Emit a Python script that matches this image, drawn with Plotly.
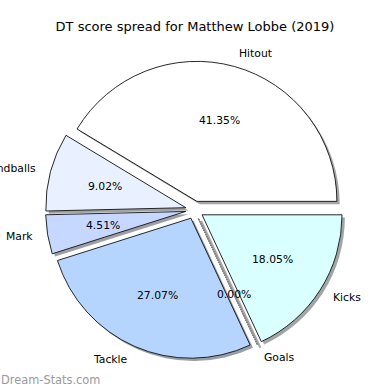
import math
import plotly.graph_objects as go

# ---- data ----
labels = ["Hitout", "Handballs", "Mark", "Tackle", "Goals", "Kicks"]
values = [55, 12, 6, 36, 0, 24]
colors = ["#ffffff", "#e9f0ff", "#c6d8ff", "#b5d5ff", "#d0e0ff", "#d9ffff"]
explode = [0.064, 0.064, 0.064, 0.064, 0.064, 0.064]
title_text = "DT score spread for Matthew Lobbe (2019)"
watermark = "Dream-Stats.com"

# ---- layout geometry (px, top-down) ----
W = H = 390
CX, CY = 194.5, 210.0
R = 140.0
SH = 2.8
FONT = "DejaVu Sans"

total = float(sum(values))
maxpull = max(explode)
half = R * (1 + maxpull)


def dom(dx, dy):
    return dict(x=[(CX + dx - half) / W, (CX + dx + half) / W],
                y=[1 - (CY + dy + half) / H, 1 - (CY + dy - half) / H])


def shadow(c):
    c = c.lstrip("#")
    r, g, b = (int(c[i:i + 2], 16) for i in (0, 2, 4))
    return "rgba(%d,%d,%d,0.5)" % (0.3 * r, 0.3 * g, 0.3 * b)


# plotly: clockwise from 3 o'clock == matplotlib counterclockwise list reversed
rl = labels[::-1]
rv = values[::-1]
rc = colors[::-1]
rp = explode[::-1]

fig = go.Figure()
fig.add_trace(go.Pie(labels=rl, values=rv, sort=False, direction="clockwise",
                     rotation=90, pull=rp, textinfo="none", hoverinfo="skip",
                     marker=dict(colors=[shadow(c) for c in rc], line=dict(width=0)),
                     domain=dom(SH, SH), showlegend=False))
fig.add_trace(go.Pie(labels=rl, values=rv, sort=False, direction="clockwise",
                     rotation=90, pull=rp, textinfo="none",
                     marker=dict(colors=rc, line=dict(color="#111111", width=0.9)),
                     domain=dom(0, 0), showlegend=False))

annotations = []
shapes = []
cum = 0.0
for lab, v, e in zip(labels, values, explode):
    t1 = 360.0 * cum / total
    t2 = 360.0 * (cum + v) / total
    cum += v
    mid = math.radians((t1 + t2) / 2)
    ex = CX + e * R * math.cos(mid)
    ey = CY - e * R * math.sin(mid)
    if v == 0:
        # zero-size wedge: matplotlib still draws it as a thin line
        for off, col, wd in ((SH, "rgba(77,77,77,0.5)", 2.0), (0, "#b0b0b0", 1.0)):
            shapes.append(dict(type="line", xref="paper", yref="paper",
                               x0=(ex + off) / W, y0=1 - (ey + off) / H,
                               x1=(ex + off + R * math.cos(mid)) / W,
                               y1=1 - (ey + off - R * math.sin(mid)) / H,
                               line=dict(color=col, width=wd)))
    lx = ex + 1.1 * R * math.cos(mid)
    ly = ey - 1.1 * R * math.sin(mid)
    px = ex + 0.6 * R * math.cos(mid)
    py = ey - 0.6 * R * math.sin(mid)
    annotations.append(dict(x=lx / W, y=1 - ly / H, xref="paper", yref="paper",
                            text=lab, showarrow=False, borderpad=0,
                            xanchor="left" if math.cos(mid) > 0 else "right",
                            yanchor="middle",
                            font=dict(family=FONT, size=10.8, color="#000000")))
    annotations.append(dict(x=px / W, y=1 - py / H, xref="paper", yref="paper",
                            text="%.2f%%" % (100.0 * v / total), showarrow=False,
                            borderpad=0, xanchor="center", yanchor="middle",
                            font=dict(family=FONT, size=10.8, color="#000000")))

annotations.append(dict(x=0, y=1 - 380 / H, xref="paper", yref="paper",
                        text=watermark, showarrow=False, xanchor="left",
                        yanchor="middle", borderpad=0,
                        font=dict(family=FONT, size=11.4, color="#9a9a9a")))

fig.update_layout(
    width=W, height=H,
    margin=dict(l=0, r=0, t=0, b=0),
    paper_bgcolor="white", plot_bgcolor="white",
    title=dict(text=title_text, x=0.5, xanchor="center", y=1 - 26 / H,
               yanchor="middle", yref="container",
               font=dict(family=FONT, size=13, color="#000000")),
    annotations=annotations,
    shapes=shapes,
    showlegend=False,
)

fig.write_html("out.html", config={"displayModeBar": False},
               post_script="document.body.style.margin='0';document.body.style.overflow='hidden';")
